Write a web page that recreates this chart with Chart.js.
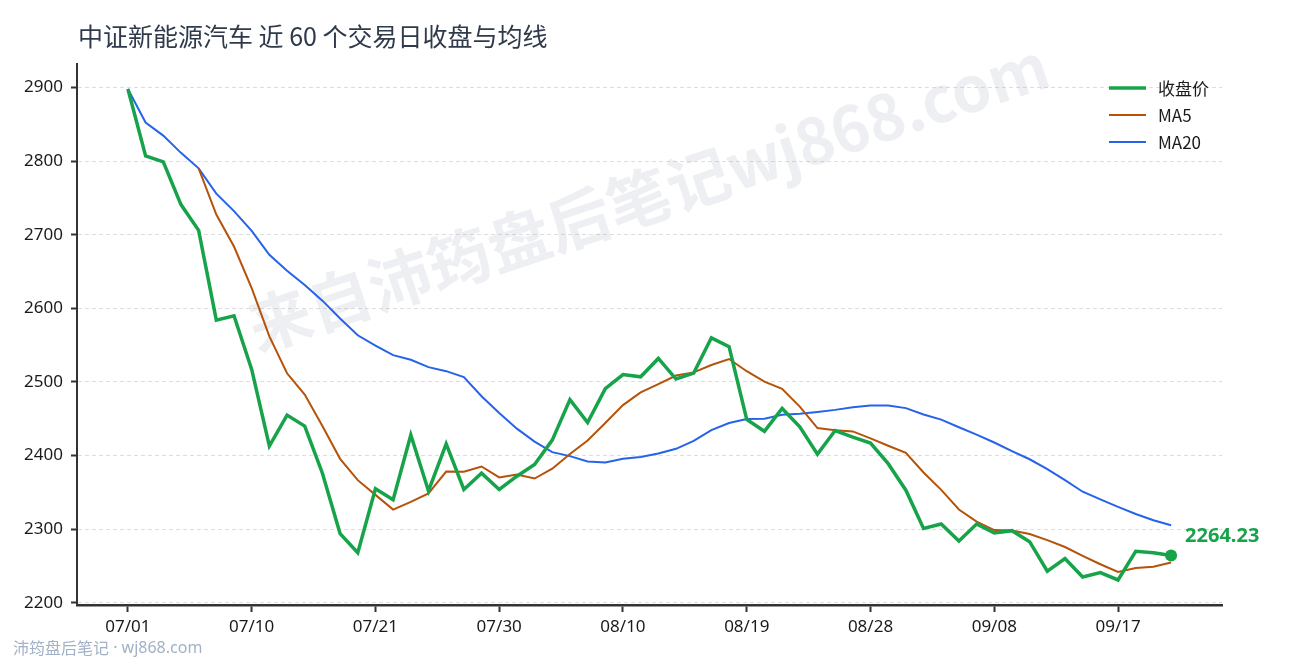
<!DOCTYPE html>
<html lang="zh-CN">
<head>
<meta charset="utf-8">
<title>中证新能源汽车 近 60 个交易日收盘与均线</title>
<script src="https://cdn.jsdelivr.net/npm/chart.js@4.4.1/dist/chart.umd.min.js"></script>
<style>
  html, body { margin: 0; padding: 0; background: #fff; }
  #wrap { width: 1290px; height: 660px; }
</style>
</head>
<body>
<div id="wrap"><canvas id="maChart" width="1290" height="660"></canvas></div>
<script>
// 60 trading days
const dates = [
  "07/01", "07/02", "07/03", "07/04", "07/07", "07/08", "07/09",
  "07/10", "07/11", "07/14", "07/15", "07/16", "07/17", "07/18",
  "07/21", "07/22", "07/23", "07/24", "07/25", "07/28", "07/29",
  "07/30", "07/31", "08/01", "08/04", "08/05", "08/06", "08/07",
  "08/10", "08/11", "08/12", "08/13", "08/14", "08/15", "08/18",
  "08/19", "08/20", "08/21", "08/22", "08/25", "08/26", "08/27",
  "08/28", "08/29", "09/01", "09/02", "09/03", "09/04", "09/05",
  "09/08", "09/09", "09/10", "09/11", "09/12", "09/15", "09/16",
  "09/17", "09/18", "09/19", "09/22",
];

// closing price
const closePrices = [
  2898, 2807, 2799, 2741, 2706, 2584, 2590, 2517, 2413, 2455,
  2440, 2376, 2294, 2268, 2355, 2340, 2428, 2352, 2416, 2354,
  2376, 2354, 2372, 2388, 2421, 2476, 2445, 2491, 2510, 2507,
  2532, 2504, 2512, 2560, 2548, 2449, 2433, 2464, 2439, 2402,
  2434, 2425, 2417, 2389, 2353, 2301, 2307, 2284, 2307, 2295,
  2298, 2283, 2243, 2260, 2235, 2241, 2231, 2270, 2268, 2264.23,
];

// MA5, starts on the 5th day
const ma5 = [
  null, null, null, null, 2790.2, 2727.4, 2684.0, 2627.6, 2562.0, 2511.8,
  2483.0, 2440.2, 2395.6, 2366.6, 2346.6, 2326.6, 2337.0, 2348.6, 2378.2, 2378.0,
  2385.2, 2370.4, 2374.4, 2368.8, 2382.2, 2402.2, 2420.4, 2444.2, 2468.6, 2485.8,
  2497.0, 2508.8, 2513.0, 2523.0, 2531.2, 2514.6, 2500.4, 2490.8, 2466.6, 2437.4,
  2434.4, 2432.8, 2423.4, 2413.4, 2403.6, 2377.0, 2353.4, 2326.8, 2310.4, 2298.8,
  2298.2, 2293.4, 2285.2, 2275.8, 2263.8, 2252.4, 2242.0, 2247.4, 2249.0, 2254.8,
];

// MA20
const ma20 = [
  2898.0, 2852.5, 2834.7, 2811.3, 2790.2, 2755.8, 2732.1, 2705.3, 2672.8, 2651.0,
  2631.8, 2610.5, 2586.2, 2563.4, 2549.5, 2536.4, 2530.1, 2520.2, 2514.7, 2506.7,
  2480.6, 2457.9, 2436.6, 2418.9, 2404.7, 2399.3, 2392.0, 2390.7, 2395.6, 2398.2,
  2402.8, 2409.2, 2420.1, 2434.7, 2444.3, 2449.8, 2450.0, 2455.6, 2456.8, 2459.2,
  2462.1, 2465.6, 2467.9, 2467.9, 2464.5, 2455.8, 2448.9, 2438.5, 2428.4, 2417.8,
  2406.1, 2395.0, 2381.6, 2366.6, 2350.9, 2340.5, 2330.4, 2320.7, 2312.2, 2305.3,
];

// axis ticks
const xTickIndex = [0, 7, 14, 21, 28, 35, 42, 49, 56];
const yTicks = [2200, 2300, 2400, 2500, 2600, 2700, 2800, 2900];

const seriesNames = ["收盘价", "MA5", "MA20"];

const COLORS = {
  close: "#16a34a",
  ma5: "#b45309",
  ma20: "#2563eb",
  axis: "#333333",
  grid: "#dedede",
  text: "#1a1a1a",
  title: "#2f3a4a",
  footer: "#a3b1c6",
};

const FONT_CJK = "'Noto Sans CJK SC', 'Noto Sans', sans-serif";
const FONT_NUM = "'Noto Sans', 'Noto Sans CJK SC', sans-serif";

function toPoints(values) {
  return values.map((v, i) => ({ x: i, y: v }));
}

// background watermark, behind the lines
const watermarkPlugin = {
  id: "watermark",
  beforeDatasetsDraw(chart) {
    const ctx = chart.ctx;
    ctx.save();
    ctx.translate(648, 196);
    ctx.rotate(-18.5 * Math.PI / 180);
    ctx.font = "bold 63px " + FONT_CJK;
    ctx.fillStyle = "rgba(148, 163, 184, 0.17)";
    ctx.textAlign = "center";
    ctx.textBaseline = "middle";
    ctx.fillText("来自沛筠盘后笔记wj868.com", 0, 0);
    ctx.restore();
  },
};

// title, legend, last value label and footer
const decorPlugin = {
  id: "decor",
  afterDraw(chart) {
    const ctx = chart.ctx;
    ctx.save();

    ctx.font = "25px " + FONT_CJK;
    ctx.fillStyle = COLORS.title;
    ctx.textAlign = "left";
    ctx.textBaseline = "middle";
    ctx.fillText("中证新能源汽车 近 60 个交易日收盘与均线", 78, 36);

    // legend
    const legendColors = [COLORS.close, COLORS.ma5, COLORS.ma20];
    const legendWidths = [3.5, 2, 2];
    seriesNames.forEach((name, i) => {
      const y = 88 + i * 27;
      ctx.beginPath();
      ctx.strokeStyle = legendColors[i];
      ctx.lineWidth = legendWidths[i];
      ctx.moveTo(1109, y);
      ctx.lineTo(1146, y);
      ctx.stroke();
      ctx.font = "17px " + FONT_CJK;
      ctx.fillStyle = COLORS.text;
      ctx.fillText(name, 1158, y + 1);
    });

    // last close label
    const meta = chart.getDatasetMeta(0);
    const last = meta.data[meta.data.length - 1];
    const lastValue = closePrices[closePrices.length - 1];
    ctx.font = "bold 20px " + FONT_NUM;
    ctx.fillStyle = COLORS.close;
    ctx.fillText(lastValue.toFixed(2), last.x + 14, last.y - 19);

    // footer
    ctx.font = "16px " + FONT_CJK;
    ctx.fillStyle = COLORS.footer;
    ctx.fillText("沛筠盘后笔记", 13, 648);
    ctx.font = "16px " + FONT_NUM;
    ctx.fillText(" · wj868.com", 109, 648);

    ctx.restore();
  },
};

function createMaChart(canvasId) {
  const el = document.getElementById(canvasId);
  if (!el) {
    console.error(`Canvas element ${canvasId} not found`);
    return null;
  }
  const lastIdx = closePrices.length - 1;

  return new Chart(el, {
    type: "line",
    data: {
      datasets: [
        {
          label: seriesNames[0],
          data: toPoints(closePrices),
          borderColor: COLORS.close,
          backgroundColor: COLORS.close,
          borderWidth: 3.5,
          pointRadius: (c) => (c.dataIndex === lastIdx ? 6 : 0),
          pointBorderWidth: 0,
          tension: 0,
        },
        {
          label: seriesNames[1],
          data: toPoints(ma5),
          borderColor: COLORS.ma5,
          borderWidth: 2,
          pointRadius: 0,
          tension: 0,
          spanGaps: false,
        },
        {
          label: seriesNames[2],
          data: toPoints(ma20),
          borderColor: COLORS.ma20,
          borderWidth: 2,
          pointRadius: 0,
          tension: 0,
        },
      ],
    },
    options: {
      responsive: false,
      animation: false,
      devicePixelRatio: 1,
      layout: { padding: { left: 0, right: 68, top: 64, bottom: 0 } },
      plugins: {
        legend: { display: false },
        tooltip: { enabled: false },
      },
      scales: {
        x: {
          type: "linear",
          min: -2.88,
          max: 61.88,
          afterBuildTicks: (scale) => {
            scale.ticks = xTickIndex.map((v) => ({ value: v }));
          },
          afterFit: (scale) => {
            scale.height = 55;
          },
          ticks: {
            autoSkip: false,
            maxRotation: 0,
            padding: 5,
            color: COLORS.text,
            font: { family: FONT_NUM, size: 17 },
            callback: (value) => dates[value] || "",
          },
          grid: {
            drawOnChartArea: false,
            drawTicks: true,
            tickLength: 7,
            tickWidth: 2,
            tickColor: COLORS.axis,
          },
          border: { display: true, color: COLORS.axis, width: 2.5 },
        },
        y: {
          min: 2197,
          max: 2932,
          afterBuildTicks: (scale) => {
            scale.ticks = yTicks.map((v) => ({ value: v }));
          },
          afterFit: (scale) => {
            scale.width = 77;
          },
          ticks: {
            padding: 8,
            color: COLORS.text,
            font: { family: FONT_NUM, size: 17 },
            callback: (value) => String(value),
          },
          grid: {
            color: COLORS.grid,
            lineWidth: 1,
            drawTicks: true,
            tickLength: 6,
            tickWidth: 2,
            tickColor: COLORS.axis,
            tickBorderDash: [],
          },
          border: { display: true, color: COLORS.axis, width: 2, dash: [4, 3] },
        },
      },
    },
    plugins: [watermarkPlugin, decorPlugin],
  });
}

createMaChart("maChart");
</script>
</body>
</html>
